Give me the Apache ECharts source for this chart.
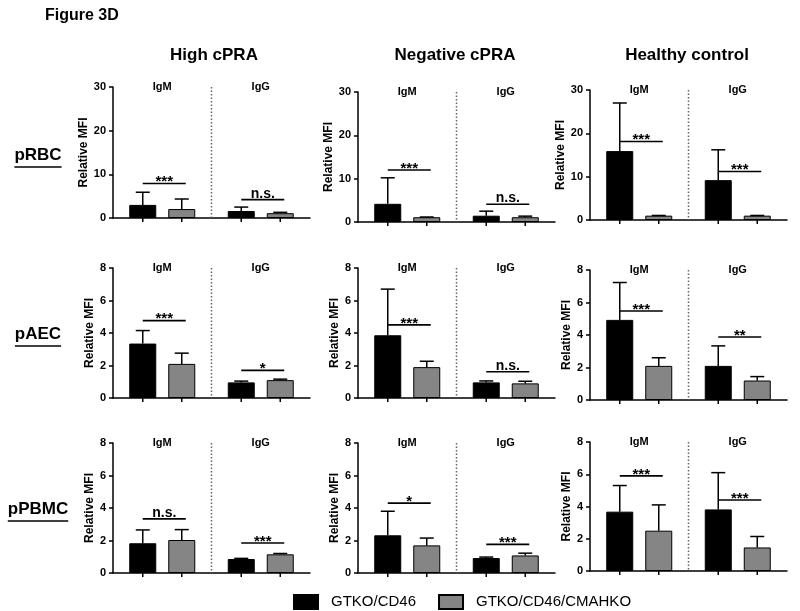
<!DOCTYPE html>
<html>
<head>
<meta charset="utf-8">
<script src="https://cdn.jsdelivr.net/npm/echarts@6/dist/echarts.min.js"></script>
<style>
html, body { margin: 0; padding: 0; background: #fff; }
#main { width: 800px; height: 611px; }
</style>
</head>
<body>
<div id="main"></div>
<script>
const columns = ['High cPRA', 'Negative cPRA', 'Healthy control'];
const cellTypes = ['pRBC', 'pAEC', 'pPBMC'];
const isotypes = ['IgM', 'IgG'];
const groupNames = ['GTKO/CD46', 'GTKO/CD46/CMAHKO'];
const yMax = [30, 8, 8];
const yStep = [10, 2, 2];

// all [column][isotype]; *Top = top of the error whisker (mean + SD)
const rbcGtko = [[3.0, 1.6], [4.2, 1.45], [15.9, 9.2]];
const rbcGtkoTop = [[5.9, 2.5], [10.2, 2.5], [27.0, 16.2]];
const rbcCmah = [[2.05, 1.1], [1.1, 1.1], [1.0, 1.0]];
const rbcCmahTop = [[4.35, 1.3], [1.15, 1.35], [1.05, 1.05]];
const rbcSigY = [[7.9, 4.2], [12.0, 4.1], [18.1, 11.2]];
const rbcSig = [['***', 'n.s.'], ['***', 'n.s.'], ['***', '***']];

const aecGtko = [[3.35, 0.96], [3.86, 0.96], [4.93, 2.1]];
const aecGtkoTop = [[4.15, 1.04], [6.7, 1.05], [7.23, 3.33]];
const aecCmah = [[2.1, 1.1], [1.9, 0.9], [2.1, 1.2]];
const aecCmahTop = [[2.76, 1.16], [2.26, 1.03], [2.6, 1.44]];
const aecSigY = [[4.76, 1.7], [4.5, 1.62], [5.48, 3.88]];
const aecSig = [['***', '*'], ['***', 'n.s.'], ['***', '**']];

const pbmcGtko = [[1.83, 0.86], [2.32, 0.92], [3.68, 3.82]];
const pbmcGtkoTop = [[2.65, 0.9], [3.8, 0.98], [5.3, 6.1]];
const pbmcCmah = [[2.03, 1.15], [1.7, 1.08], [2.5, 1.46]];
const pbmcCmahTop = [[2.67, 1.2], [2.15, 1.22], [4.1, 2.14]];
const pbmcSigY = [[3.33, 1.85], [4.3, 1.76], [5.9, 4.4]];
const pbmcSig = [['n.s.', '***'], ['*', '***'], ['***', '***']];

const rows = [
  { mean: [rbcGtko, rbcCmah], top: [rbcGtkoTop, rbcCmahTop], sigY: rbcSigY, sig: rbcSig },
  { mean: [aecGtko, aecCmah], top: [aecGtkoTop, aecCmahTop], sigY: aecSigY, sig: aecSig },
  { mean: [pbmcGtko, pbmcCmah], top: [pbmcGtkoTop, pbmcCmahTop], sigY: pbmcSigY, sig: pbmcSig },
];

// layout
const FONT = '"Liberation Sans", Arial, sans-serif';
const colLeft = [113, 358, 590];
const panelW = 197;
const rowTop = [[87, 92, 90], [268, 268, 270], [443, 443, 442]];
const rowBottom = [[218, 222, 220], [398, 398, 400], [573, 573, 571]];
const nameGap = [22, 17, 17];
const BAR_W = 27;
const BAR_GAP = 12;
const HALF = (BAR_W + BAR_GAP) / 2;
const colors = ['#000000', '#858585'];

const chart = echarts.init(document.getElementById('main'));

function errRender(params, api) {
  const i = api.value(0);
  const s = api.value(1);
  const base = api.coord([i, 0]);
  const x = base[0] + (s === 0 ? -HALF : HALF);
  const y1 = api.coord([i, api.value(2)])[1];
  const y2 = api.coord([i, api.value(3)])[1];
  const st = { stroke: '#000', lineWidth: 1.5 };
  return {
    type: 'group',
    children: [
      { type: 'line', shape: { x1: x, y1: y1, x2: x, y2: y2 }, style: st },
      { type: 'line', shape: { x1: x - 7, y1: y2, x2: x + 7, y2: y2 }, style: st },
      { type: 'line', shape: { x1: x, y1: base[1], x2: x, y2: base[1] + 4 }, style: st },
    ],
  };
}

function sigRender(labels, max) {
  return function (params, api) {
    const i = api.value(0);
    const base = api.coord([i, 0]);
    const band = api.size([1, 0])[0];
    const y = api.coord([i, api.value(1)])[1];
    const x1 = base[0] - HALF;
    const x2 = base[0] + HALF + 4;
    const label = labels[params.dataIndex];
    const stars = label !== 'n.s.';
    const children = [
      { type: 'line', shape: { x1: x1, y1: y, x2: x2, y2: y }, style: { stroke: '#000', lineWidth: 1.6 } },
      {
        type: 'text',
        style: {
          text: label, x: (x1 + x2) / 2, y: stars ? y + 6 : y + 1,
          textAlign: 'center', textVerticalAlign: 'bottom',
          font: 'bold ' + (stars ? 15 : 14) + 'px ' + FONT, fill: '#000',
        },
      },
    ];
    if (params.dataIndex === 0) {
      const xs = base[0] + band / 2;
      children.push({
        type: 'line',
        shape: { x1: xs, y1: api.coord([0, max])[1], x2: xs, y2: base[1] },
        style: { stroke: '#666', lineWidth: 1.5, lineDash: [1.5, 2] },
      });
    }
    return { type: 'group', children: children };
  };
}

const grid = [], xAxis = [], yAxis = [], series = [];
rows.forEach(function (row, r) {
  columns.forEach(function (col, c) {
    const g = grid.length;
    grid.push({
      left: colLeft[c], top: rowTop[r][c], width: panelW,
      height: rowBottom[r][c] - rowTop[r][c],
    });
    xAxis.push({
      type: 'category', gridIndex: g, data: isotypes,
      axisLine: { lineStyle: { color: '#000', width: 1.5 } },
      axisTick: { show: false }, axisLabel: { show: false },
    });
    xAxis.push({
      type: 'category', gridIndex: g, data: isotypes, position: 'top',
      axisLine: { show: false }, axisTick: { show: false },
      axisLabel: { interval: 0, margin: -5, color: '#000', fontWeight: 'bold', fontSize: 11, fontFamily: FONT },
    });
    yAxis.push({
      type: 'value', gridIndex: g, min: 0, max: yMax[r], interval: yStep[r],
      name: 'Relative MFI', nameLocation: 'middle', nameGap: nameGap[r],
      nameTextStyle: { color: '#000', fontWeight: 'bold', fontSize: 12, fontFamily: FONT },
      axisLine: { show: true, lineStyle: { color: '#000', width: 1.5 } },
      axisTick: { show: true, length: 4, lineStyle: { color: '#000', width: 1.5 } },
      axisLabel: { margin: 7, color: '#000', fontWeight: 'bold', fontSize: 11, fontFamily: FONT },
      splitLine: { show: false },
    });
    groupNames.forEach(function (name, s) {
      series.push({
        name: name, type: 'bar', xAxisIndex: 2 * g, yAxisIndex: g,
        barWidth: BAR_W, barGap: (BAR_GAP / BAR_W * 100) + '%',
        itemStyle: { color: colors[s], borderColor: '#000', borderWidth: 1 },
        data: row.mean[s][c],
      });
    });
    const errData = [];
    isotypes.forEach(function (iso, i) {
      groupNames.forEach(function (n, s) {
        errData.push([i, s, row.mean[s][c][i], row.top[s][c][i]]);
      });
    });
    series.push({
      type: 'custom', xAxisIndex: 2 * g, yAxisIndex: g, renderItem: errRender,
      encode: { x: 0, y: [2, 3] }, data: errData, z: 5, silent: true,
    });
    series.push({
      type: 'custom', xAxisIndex: 2 * g, yAxisIndex: g,
      renderItem: sigRender(row.sig[c], yMax[r]),
      encode: { x: 0, y: 1 },
      data: isotypes.map(function (iso, i) { return [i, row.sigY[c][i]]; }),
      z: 5, silent: true,
    });
  });
});

// text blocks: figure title, column heads, underlined row labels
const measure = document.createElement('canvas').getContext('2d');
const graphic = [
  { type: 'text', left: 45, top: 8, style: { text: 'Figure 3D', font: 'bold 16px ' + FONT, fill: '#000' } },
];
const colCenter = [214, 455, 687];
columns.forEach(function (col, c) {
  graphic.push({
    type: 'text',
    style: { text: col, x: colCenter[c], y: 55, textAlign: 'center', textVerticalAlign: 'middle', font: 'bold 17px ' + FONT, fill: '#000' },
  });
});
const rowLabelY = [155, 334, 509];
cellTypes.forEach(function (cell, r) {
  const f = 'bold 17px ' + FONT;
  measure.font = f;
  const w = measure.measureText(cell).width;
  graphic.push({
    type: 'text',
    style: { text: cell, x: 38, y: rowLabelY[r], textAlign: 'center', textVerticalAlign: 'middle', font: f, fill: '#000' },
  });
  graphic.push({
    type: 'line',
    shape: { x1: 38 - w / 2, y1: rowLabelY[r] + 12, x2: 38 + w / 2, y2: rowLabelY[r] + 12 },
    style: { stroke: '#000', lineWidth: 1.5 },
  });
});

chart.setOption({
  animation: false,
  backgroundColor: '#fff',
  graphic: graphic,
  legend: {
    data: groupNames, left: 288, top: 589, icon: 'rect',
    itemWidth: 24, itemHeight: 14, itemGap: 22,
    textStyle: { color: '#000', fontSize: 15, fontFamily: FONT, padding: [0, 0, 0, 8] },
  },
  grid: grid,
  xAxis: xAxis,
  yAxis: yAxis,
  series: series,
});
</script>
</body>
</html>
